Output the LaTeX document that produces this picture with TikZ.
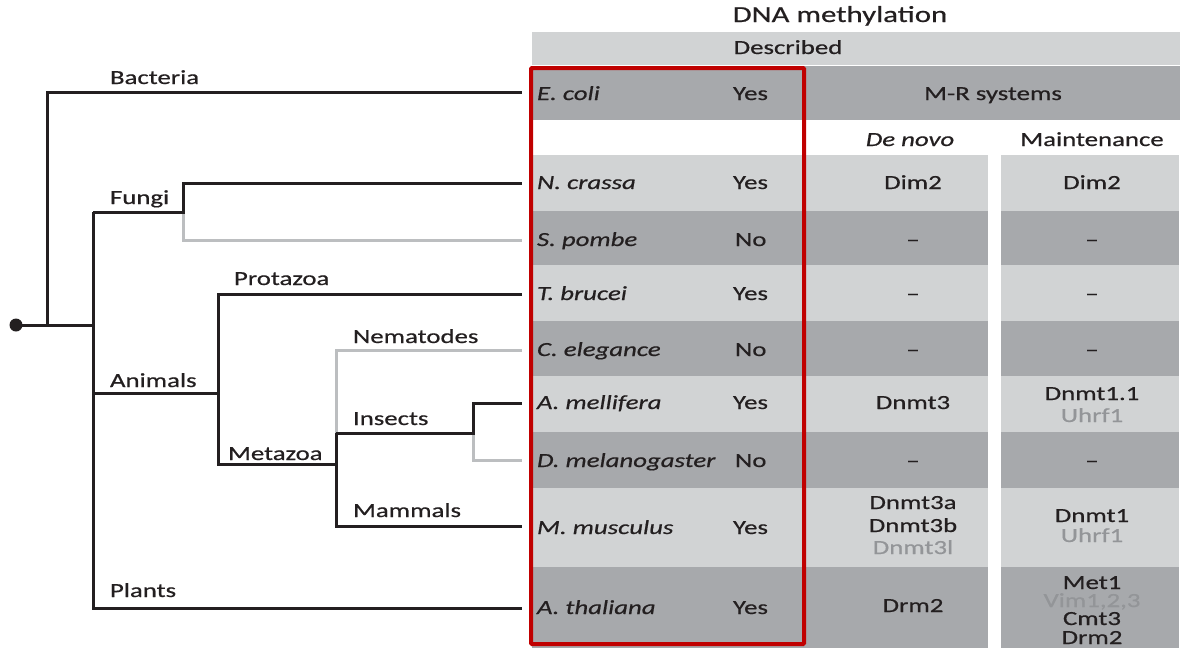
\documentclass[tikz,border=0pt]{standalone}
\usepackage{fontspec}
\setmainfont{Carlito}[FakeStretch=1.34,FakeBold=0.6]
\definecolor{ink}{HTML}{231F20}
\definecolor{lightg}{HTML}{D1D3D4}
\definecolor{darkg}{HTML}{A7A9AC}
\definecolor{treeg}{HTML}{BCBEC0}
\definecolor{redb}{HTML}{C00000}
\definecolor{subg}{HTML}{939598}
\newcommand\tsz{\fontsize{20}{24}\selectfont}
\newcommand\tsy{\fontsize{23}{27}\selectfont}
\begin{document}
\begin{tikzpicture}[x=1pt,y=-1pt,
  every node/.style={inner sep=0pt,outer sep=0pt,text=ink},
  tl/.style={anchor=base west,font=\tsz},
  sp/.style={anchor=base west,font=\tsz\itshape},
  cl/.style={anchor=base,font=\tsz},
  sub/.style={anchor=base,font=\tsz,text=subg},
  br/.style={line width=3pt,draw=ink},
  brg/.style={line width=3pt,draw=treeg}]
\useasboundingbox (0,0) rectangle (1186,648);
% table backgrounds
\fill[lightg] (532,32) rectangle (1180,65);
\fill[darkg] (532,66) rectangle (1180,120);
\foreach \a/\b/\c in {155/211/lightg,211/265/darkg,265/321/lightg,321/376/darkg,376/432/lightg,432/488/darkg,488/567/lightg,567/648/darkg}{
  \fill[\c] (532,\a) rectangle (988,\b);
  \fill[\c] (1001,\a) rectangle (1179,\b);
}
% tree
\node[circle,fill=ink,minimum size=13pt] (root) at (16,325) {};
\coordinate (jB) at (47,325);
\coordinate (jM) at (93,325);
\coordinate (lB) at (522,92);
\coordinate (jF) at (93,212);
\coordinate (jF2) at (183,212);
\coordinate (lN) at (522,183);
\coordinate (lS) at (522,240);
\coordinate (jA) at (93,393);
\coordinate (jA2) at (218,393);
\coordinate (lT) at (522,294);
\coordinate (jMz) at (218,464);
\coordinate (jMz2) at (336,464);
\coordinate (jI) at (336,433);
\coordinate (lC) at (522,350);
\coordinate (jI2) at (473,433);
\coordinate (lAm) at (522,403);
\coordinate (lD) at (522,460);
\coordinate (lMm) at (522,526);
\coordinate (jP) at (93,608);
\coordinate (lAt) at (522,608);
\draw[brg] (jF2) |- (lS);
\draw[brg] (lC) -| (jI);
\draw[brg] (jI2) |- (lD);
\draw[br] (root.center) -- (jM);
\draw[br] (jB) |- (lB);
\draw[br] (jF) -- (jP) -- (lAt);
\draw[br] (jF) -- (jF2) |- (lN);
\draw[br] (jA) -- (jA2);
\draw[br] (lT) -| (jMz) -- (jMz2);
\draw[br] (jI) |- (lMm);
\draw[br] (jI) -- (jI2) |- (lAm);
% tree labels
\node[tl] (tBac) at (110,84) {Bacteria};
\node[tl] (tFun) at (110,204) {Fungi};
\node[tl] (tPro) at (234,285) {Protazoa};
\node[tl] (tNem) at (353,343) {Nematodes};
\node[tl] (tAni) at (110,387) {Animals};
\node[tl] (tIns) at (353,425) {Insects};
\node[tl] (tMet) at (228,460) {Metazoa};
\node[tl] (tMam) at (353,517) {Mammals};
\node[tl] (tPla) at (110,597) {Plants};
% headers
\node[anchor=base,font=\tsy] (title) at (840,22) {DNA methylation};
\node[cl] (desc) at (788,54) {Described};
\node[cl] (mr) at (993,100) {M-R systems};
\node[cl,font=\tsz\itshape] (hdn) at (910,146) {De novo};
\node[cl] (hmt) at (1092,146) {Maintenance};
% species
\node[sp] (sEc) at (537,100) {E. coli};
\node[sp] (sNc) at (537,189) {N. crassa};
\node[sp] (sSp) at (537,246) {S. pombe};
\node[sp] (sTb) at (537,300) {T. brucei};
\node[sp] (sCe) at (537,356) {C. elegance};
\node[sp] (sAm) at (537,409) {A. mellifera};
\node[sp] (sDm) at (537,467) {D. melanogaster};
\node[sp] (sMm) at (537,534) {M. musculus};
\node[sp] (sAt) at (537,614) {A. thaliana};
% described
\node[tl] (yEc) at (733,100) {Yes};
\node[tl] (yNc) at (733,189) {Yes};
\node[tl] (ySp) at (735,246) {No};
\node[tl] (yTb) at (733,300) {Yes};
\node[tl] (yCe) at (735,356) {No};
\node[tl] (yAm) at (733,409) {Yes};
\node[tl] (yDm) at (735,467) {No};
\node[tl] (yMm) at (733,534) {Yes};
\node[tl] (yAt) at (733,614) {Yes};
% de novo
\node[cl] (dNc) at (913,189) {Dim2};
\node[cl] (dSp) at (913,246) {–};
\node[cl] (dTb) at (913,300) {–};
\node[cl] (dCe) at (913,356) {–};
\node[cl] (dAm) at (913,409) {Dnmt3};
\node[cl] (dDm) at (913,467) {–};
\node[cl] (dMm1) at (913,509) {Dnmt3a};
\node[cl] (dMm2) at (913,532) {Dnmt3b};
\node[sub] (dMm3) at (913,554) {Dnmt3l};
\node[cl] (dAt) at (913,612) {Drm2};
% maintenance
\node[cl] (mNc) at (1092,189) {Dim2};
\node[cl] (mSp) at (1092,246) {–};
\node[cl] (mTb) at (1092,300) {–};
\node[cl] (mCe) at (1092,356) {–};
\node[cl] (mAm1) at (1092,400) {Dnmt1.1};
\node[sub] (mAm2) at (1092,422) {Uhrf1};
\node[cl] (mDm) at (1092,467) {–};
\node[cl] (mMm1) at (1092,522) {Dnmt1};
\node[sub] (mMm2) at (1092,542) {Uhrf1};
\node[cl] (mAt1) at (1092,589) {Met1};
\node[sub] (mAt2) at (1092,607) {Vim1,2,3};
\node[cl] (mAt3) at (1092,625) {Cmt3};
\node[cl] (mAt4) at (1092,644) {Drm2};
% highlight
\draw[redb,line width=4pt,rounded corners=1pt] (531,68) rectangle (804,644);
\end{tikzpicture}
\end{document}
